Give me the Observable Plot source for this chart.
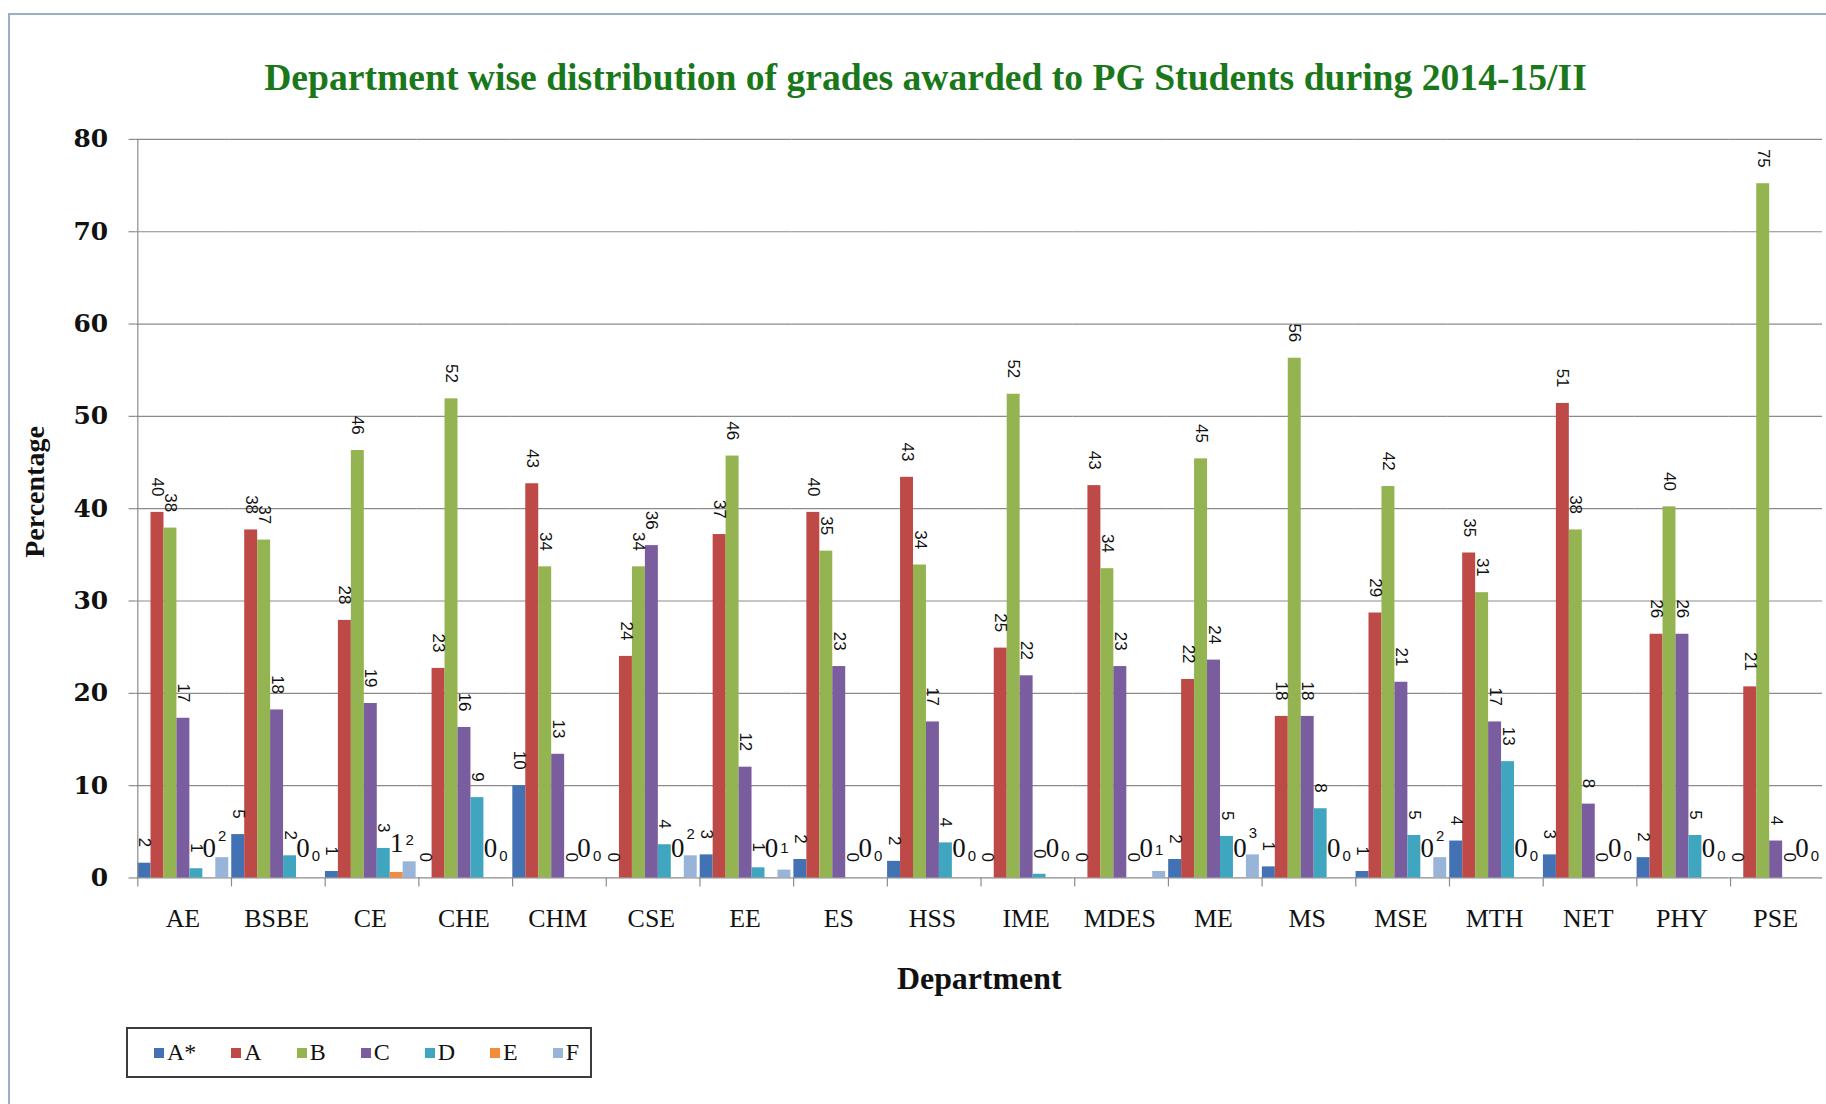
<!DOCTYPE html>
<html>
<head>
<meta charset="utf-8">
<script src="https://cdn.jsdelivr.net/npm/d3@7"></script>
<script src="https://cdn.jsdelivr.net/npm/@observablehq/plot@0.6"></script>
<style>
  html, body { margin: 0; padding: 0; background: #fff; overflow: hidden; }
  #wrap { position: relative; width: 1826px; height: 1104px; overflow: hidden; background: #fff; }
  #border { position: absolute; left: 8px; top: 13px; width: 1900px; height: 1200px;
            border-left: 2px solid #9aaec8; border-top: 2px solid #9aaec8; }
  #title { position: absolute; left: 0; width: 1851px; text-align: center; white-space: nowrap;
           font-family: "Liberation Serif", "Times New Roman", serif; font-weight: bold; color: #1a781a; line-height: 1; }
  #ylabel { position: absolute; left: 35px; top: 492px; transform: translate(-50%, -50%) rotate(-90deg);
            font-family: "Liberation Serif", "Times New Roman", serif; font-weight: bold; font-size: 28px;
            color: #111; white-space: nowrap; line-height: 1; }
  #chart { position: absolute; left: 0; top: 110px; }
  #legend { position: absolute; left: 126px; top: 1027px; width: 462px; height: 47px;
            border: 2px solid #3c3c3c; display: flex; align-items: center; box-sizing: content-box;
            font-family: "Liberation Serif", "Times New Roman", serif; font-size: 24px; color: #111; }
  #legend .item { display: flex; align-items: center; margin-right: 35px; }
  #legend .item:first-child { margin-left: 26px; }
  #legend .sw { width: 10px; height: 10px; margin-right: 3px; }
</style>
</head>
<body>
<div id="wrap">
  <div id="border"></div>
  <div id="title">Department wise distribution of grades awarded to PG Students during 2014-15/II</div>
  <div id="ylabel">Percentage</div>
  <div id="chart"></div>
  <div id="legend"></div>
</div>
<script>
const departments = ["AE","BSBE","CE","CHE","CHM","CSE","EE","ES","HSS","IME","MDES","ME","MS","MSE","MTH","NET","PHY","PSE"];
const grades = ["A*","A","B","C","D","E","F"];
const gradeColors = ["#4271b4","#bd4a47","#93b451","#7a5d9e","#40a5bf","#f28c3c","#98b4d9"];

const valuesAstar = [1.6, 4.7, 0.7, 0, 10.0, 0, 2.5, 2.0, 1.8, 0, 0, 2.0, 1.2, 0.7, 4.0, 2.5, 2.2, 0];
const valuesA     = [39.6, 37.7, 27.9, 22.7, 42.7, 24.0, 37.2, 39.6, 43.4, 24.9, 42.5, 21.5, 17.5, 28.7, 35.2, 51.4, 26.4, 20.7];
const valuesB     = [37.9, 36.6, 46.3, 51.9, 33.7, 33.7, 45.7, 35.4, 33.9, 52.4, 33.5, 45.4, 56.3, 42.4, 30.9, 37.7, 40.2, 75.2];
const valuesC     = [17.3, 18.2, 18.9, 16.3, 13.4, 36.0, 12.0, 22.9, 16.9, 21.9, 22.9, 23.6, 17.5, 21.2, 16.9, 8.0, 26.4, 4.0];
const valuesD     = [1.0, 2.4, 3.2, 8.7, 0, 3.6, 1.1, 0, 3.8, 0.4, 0, 4.5, 7.5, 4.6, 12.6, 0, 4.6, 0];
const valuesE     = [0, 0, 0.6, 0, 0, 0, 0, 0, 0, 0, 0, 0, 0, 0, 0, 0, 0, 0];
const valuesF     = [2.2, 0, 1.75, 0, 0, 2.4, 0.85, 0, 0, 0, 0.7, 2.5, 0, 2.2, 0, 0, 0, 0];

const yTicks = [0, 10, 20, 30, 40, 50, 60, 70, 80];

const series = [valuesAstar, valuesA, valuesB, valuesC, valuesD, valuesE, valuesF];
const rows = departments.flatMap((dept, i) => grades.map((grade, j) => ({dept, grade, value: series[j][i]})));
const label = d => String(Math.round(d.value));

// title sizing
const titleEl = document.getElementById("title");
const ctx = document.createElement("canvas").getContext("2d");
ctx.font = 'bold 40px "Liberation Serif"';
const tw = ctx.measureText(titleEl.textContent).width;
const titleSize = 40 * 1323 / tw;
titleEl.style.fontSize = titleSize + "px";
titleEl.style.top = (91 - 0.8375 * titleSize) + "px";

const width = 1832, height = 890, marginLeft = 132, marginRight = 0, marginTop = 29, marginBottom = 120;
const facetW = (width - marginLeft - marginRight) / departments.length;
const bw = facetW / grades.length;
const axisGray = "#8b8b8b";
const serif = '"Liberation Serif", "Times New Roman", serif';
const sans = '"Liberation Sans", Arial, sans-serif';

const chart = Plot.plot({
  width, height, marginLeft, marginRight, marginTop, marginBottom,
  style: {background: "transparent", overflow: "visible", color: "#000"},
  fx: {domain: departments, padding: 0, label: null},
  x: {domain: grades, padding: 0, axis: null},
  y: {domain: [0, 80], axis: null},
  color: {domain: grades, range: gradeColors},
  marks: [
    Plot.gridY(yTicks, {stroke: axisGray, strokeOpacity: 1, strokeWidth: 1.2}),
    Plot.barY(rows, {fx: "dept", x: "grade", y: "value", fill: "grade"}),
    Plot.ruleX([departments[0]], {fx: d => d, x: () => grades[0], dx: -bw / 2, y1: 0, y2: 80, stroke: axisGray, strokeWidth: 1.2}),
    Plot.ruleX(departments, {fx: d => d, x: () => grades[0], dx: -bw / 2, y1: 0, y2: 0, insetBottom: -9, stroke: axisGray, strokeWidth: 1.2}),
    Plot.text(rows.filter(d => d.grade !== "E" && d.grade !== "F"), {
      fx: "dept", x: "grade", y: "value", text: label, rotate: 90, textAnchor: "end", dy: -16,
      fontSize: 17, fontFamily: sans, fill: "#111"
    }),
    Plot.text(rows.filter(d => d.grade === "E"), {
      fx: "dept", x: "grade", y: "value", text: label, lineAnchor: "bottom", dy: -21,
      fontSize: 27, fontFamily: serif, fill: "#111"
    }),
    Plot.text(rows.filter(d => d.grade === "F"), {
      fx: "dept", x: "grade", y: "value", text: label, lineAnchor: "bottom", dy: -17,
      fontSize: 15, fontFamily: sans, fill: "#111"
    }),
    Plot.axisY(yTicks, {
      anchor: "left", tickSize: 7, tickPadding: 21, stroke: axisGray, strokeWidth: 1.2,
      fontSize: 25, fontFamily: '"DejaVu Serif", serif', fontWeight: "bold", fill: "#111",
      label: null
    }),
    Plot.axisFx({
      anchor: "bottom", tickSize: 0, tickPadding: 31, fontSize: 26, fontFamily: serif, fill: "#111",
      label: "Department", labelAnchor: "center", labelOffset: 111, labelArrow: "none"
    })
  ]
});
document.getElementById("chart").appendChild(chart);

// style the x axis title
d3.select(chart).selectAll('g[aria-label="fx-axis label"] text')
  .attr("font-weight", "bold").attr("font-size", 32).attr("font-family", serif);

// legend
const legend = d3.select("#legend");
grades.forEach((g, i) => {
  const it = legend.append("div").attr("class", "item");
  it.append("div").attr("class", "sw").style("background", gradeColors[i]);
  it.append("span").text(g);
});
</script>
</body>
</html>
